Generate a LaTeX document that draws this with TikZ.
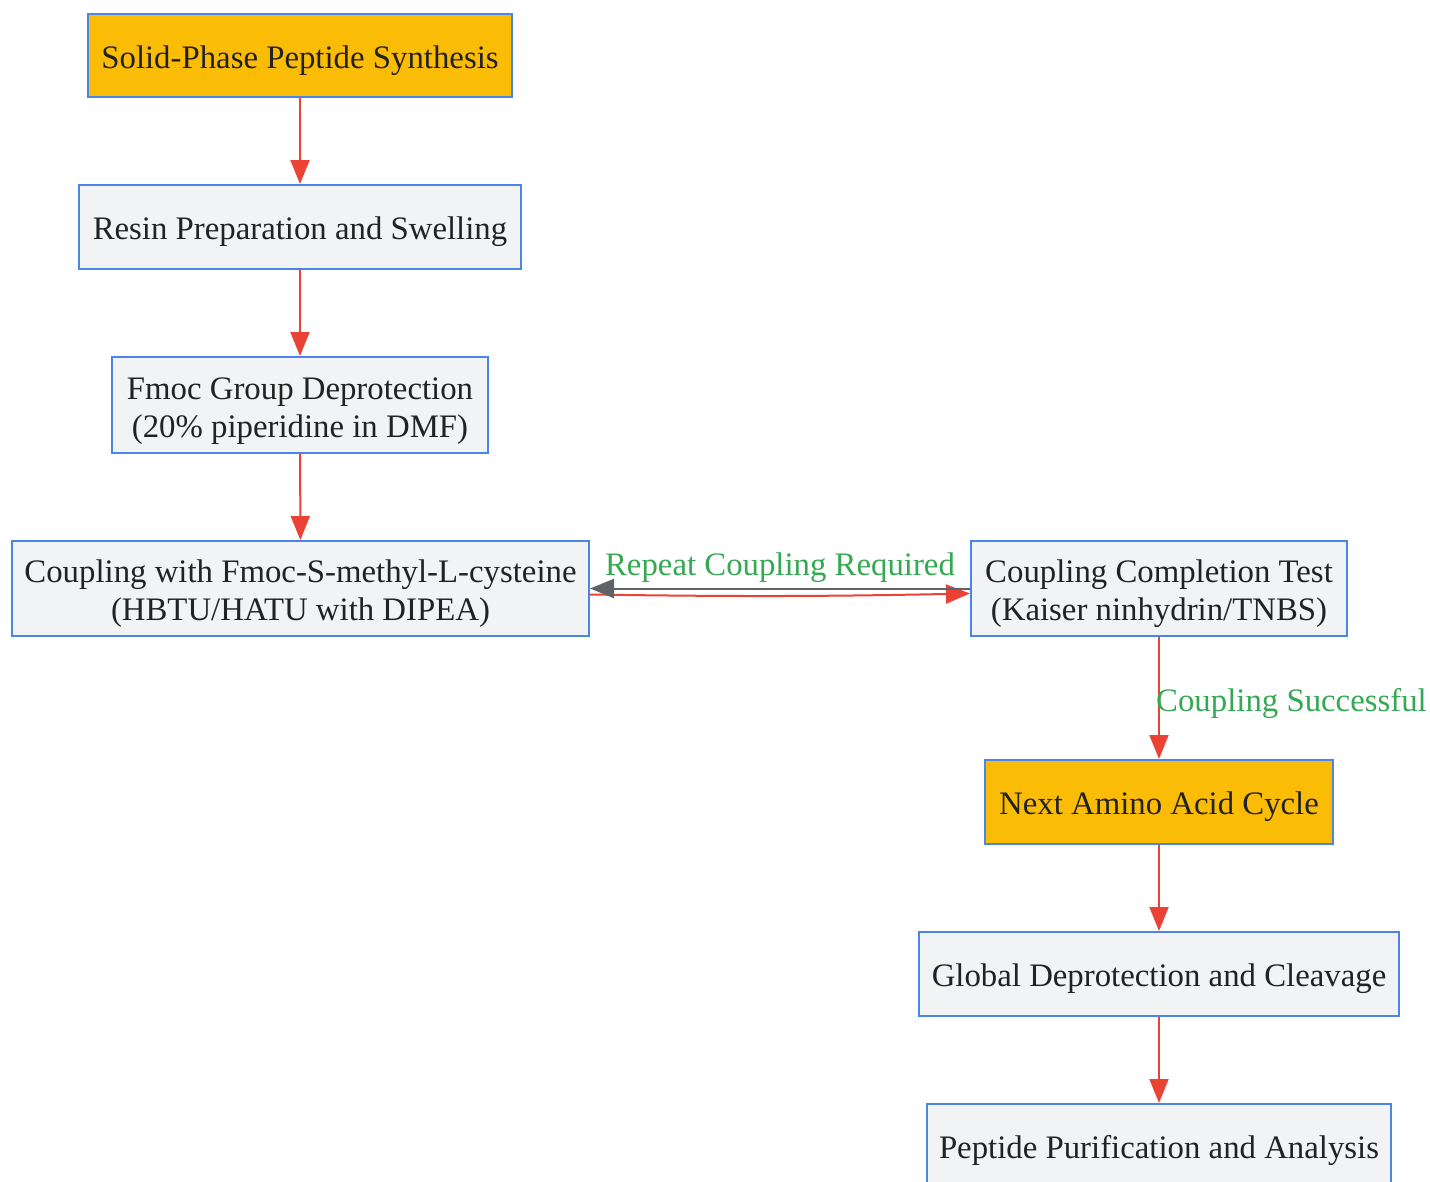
\documentclass[tikz,border=0pt]{standalone}
\usepackage{fontspec}
\setmainfont{Liberation Serif}
\usetikzlibrary{arrows.meta}
\definecolor{boxfill}{HTML}{F1F3F4}
\definecolor{boxline}{HTML}{4A86E8}
\definecolor{hilite}{HTML}{FBBC05}
\definecolor{arrowred}{HTML}{EA4335}
\definecolor{labgreen}{HTML}{34A853}
\definecolor{arrowgray}{HTML}{5F6368}
\definecolor{txt}{HTML}{222222}
\begin{document}
\begin{tikzpicture}[x=1pt,y=-1pt,
  stepbox/.style={draw=boxline, line width=2pt, fill=boxfill, inner sep=0pt, text=txt,
    font=\fontsize{32.8}{38}\selectfont, align=center},
  oneline/.style={text height=30pt, text depth=5pt},
  twoline/.style={text height=69pt, text depth=5pt},
  hibox/.style={stepbox, fill=hilite},
  flow/.style={draw=arrowred, line width=2pt, -{Triangle[length=24pt,width=19pt]}},
  back/.style={draw=arrowgray, line width=2pt, -{Triangle[length=24pt,width=19pt]}},
  lab/.style={text=labgreen, font=\fontsize{32.8}{38}\selectfont, inner sep=0pt}]
\useasboundingbox (0,0) rectangle (1430,1181);
\node[hibox, oneline, minimum width=424pt, minimum height=83pt] (spps) at (300,55.5) {Solid-Phase Peptide Synthesis};
\node[stepbox, oneline, minimum width=442pt, minimum height=84pt] (resin) at (300,227) {Resin Preparation and Swelling};
\node[stepbox, twoline, minimum width=376pt, minimum height=96pt] (fmoc) at (300,405) {Fmoc Group Deprotection\\(20\% piperidine in DMF)};
\node[stepbox, twoline, minimum width=577pt, minimum height=95pt] (coup) at (300.5,588.5) {Coupling with Fmoc-S-methyl-L-cysteine\\(HBTU/HATU with DIPEA)};
\node[stepbox, twoline, minimum width=376pt, minimum height=95pt] (test) at (1159,588.5) {Coupling Completion Test\\(Kaiser ninhydrin/TNBS)};
\node[hibox, oneline, minimum width=348pt, minimum height=84pt] (next) at (1159,802) {Next Amino Acid Cycle};
\node[stepbox, oneline, minimum width=480pt, minimum height=84pt] (glob) at (1159,974) {Global Deprotection and Cleavage};
\node[stepbox, oneline, minimum width=464pt, minimum height=84pt] (pur) at (1159,1146) {Peptide Purification and Analysis};
\draw[flow] (spps) -- (resin);
\draw[flow] (resin) -- (fmoc);
\draw[flow] (fmoc) -- (coup);
\draw[flow] ([yshift=-6pt]coup.east) to[bend right=1] ([yshift=-5pt]test.west);
\draw[back] (test.west) -- (coup.east);
\node[lab] (lrep) at (780,568) {Repeat Coupling Required};
\draw[flow] (test) -- (next);
\node[lab, anchor=west] (lsucc) at (1156,703) {Coupling Successful};
\draw[flow] (next) -- (glob);
\draw[flow] (glob) -- (pur);
\end{tikzpicture}
\end{document}
